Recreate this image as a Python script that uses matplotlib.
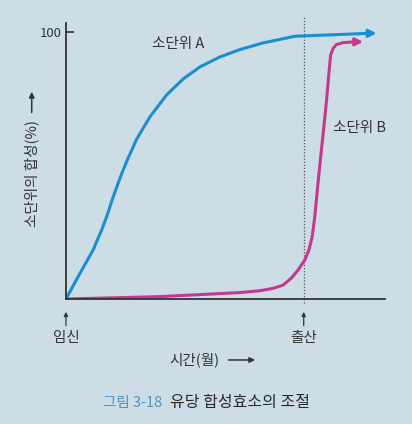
import numpy as np
import matplotlib
matplotlib.use("Agg")
import matplotlib.pyplot as plt

plt.rcParams['font.family'] = ['Noto Sans CJK KR', 'DejaVu Sans']

# data (months, % synthesis)
birth_month = 9
a_months = [0, 0.53, 1.03, 1.35, 1.54, 1.79, 2.11, 2.31, 2.67, 3.18, 3.81, 4.44,
            5.07, 5.82, 6.58, 7.46, 8.66, 11.50]
a_level = [0, 9.6, 18.4, 25.8, 30.8, 38.3, 47.0, 51.8, 59.8, 68.3, 76.5, 82.5,
           87.0, 90.7, 93.5, 96.0, 98.5, 99.6]
b_months = [0, 3.56, 6.58, 7.34, 7.84, 8.22, 8.54, 8.79, 9.04, 9.20, 9.32, 9.42,
            9.54, 9.67, 9.73, 9.86, 9.97, 10.02, 10.11, 10.24, 10.49, 10.93]
b_level = [0, 0.9, 2.4, 3.1, 4.0, 5.2, 7.9, 10.9, 14.6, 18.4, 23.3, 30.8,
           43.3, 55.8, 61.4, 73.9, 86.4, 91.4, 93.9, 95.4, 96.1, 96.4]
a_tip = (11.76, 99.6)
b_tip = (11.25, 96.4)

bg = '#cddde5'
blue = '#1a8fd0'
pink = '#c2398f'
ink = '#333333'

fig = plt.figure(figsize=(4.12, 4.24), dpi=100, facecolor=bg)
ax = fig.add_axes([0.160, 0.2948, 0.774, 0.665])
ax.set_facecolor(bg)
ax.set_xlim(0, 12.07)
ax.set_ylim(0, 105.7)

for s in ['top', 'right']:
    ax.spines[s].set_visible(False)
ax.spines['left'].set_bounds(0, 103.4)
for s in ['left', 'bottom']:
    ax.spines[s].set_color(ink)
    ax.spines[s].set_linewidth(1.3)

ax.set_xticks([])
ax.set_yticks([100])
ax.set_yticklabels(['100'], fontsize=9.5, color=ink)
ax.tick_params(axis='y', direction='in', length=6, width=1.2, color=ink, pad=3)

# dotted line at birth
ax.plot([birth_month, birth_month], [-1.5, 105.7], ls=(0, (1, 1.5)), lw=0.9,
        color='#555555', clip_on=False)

# curves
ax.plot(a_months, a_level, color=blue, lw=2.2, solid_capstyle='round',
        solid_joinstyle='round')
ax.plot(b_months, b_level, color=pink, lw=2.2, solid_capstyle='round',
        solid_joinstyle='round')
ax.annotate('', xy=a_tip, xytext=(a_months[-1], a_level[-1]),
            arrowprops=dict(arrowstyle='-|>', color=blue, lw=2.2, mutation_scale=11,
                            shrinkA=0, shrinkB=0))
ax.annotate('', xy=b_tip, xytext=(b_months[-1], b_level[-1]),
            arrowprops=dict(arrowstyle='-|>', color=pink, lw=2.2, mutation_scale=11,
                            shrinkA=0, shrinkB=0))

ax.text(4.24, 95.5, '소단위 A', fontsize=10.5, color=ink, ha='center', va='center')
ax.text(11.12, 64.0, '소단위 B', fontsize=10.5, color=ink, ha='center', va='center')

# markers under the x axis
for xm, lab in [(0, '임신'), (birth_month, '출산')]:
    ax.annotate('', xy=(xm, -4.8), xytext=(xm, -10), annotation_clip=False,
                arrowprops=dict(arrowstyle='-|>', color=ink, lw=0.9, mutation_scale=6,
                                shrinkA=0, shrinkB=0))
    ax.text(xm, -14.5, lab, fontsize=10.5, color=ink, ha='center', va='center')

# axis titles with long arrows
fig.text(0.472, 0.151, '시간(월)', fontsize=10.5, color=ink, ha='center', va='center')
fig.patches.append(plt.matplotlib.patches.FancyArrowPatch(
    (0.548, 0.151), (0.626, 0.151), transform=fig.transFigure, arrowstyle='-|>',
    mutation_scale=8, lw=1.1, color=ink))
fig.text(0.077, 0.591, '소단위의 합성(%)', fontsize=10.5, color=ink, ha='center',
         va='center', rotation=90)
fig.patches.append(plt.matplotlib.patches.FancyArrowPatch(
    (0.077, 0.728), (0.077, 0.790), transform=fig.transFigure, arrowstyle='-|>',
    mutation_scale=8, lw=1.1, color=ink))

fig.text(0.25, 0.05, '그림 3-18', fontsize=10.5, color='#4f93bd', ha='left', va='center')
fig.text(0.413, 0.05, '유당 합성효소의 조절', fontsize=11.5, color='#2a2a2a',
         ha='left', va='center')

fig.savefig('out.png', dpi=100, facecolor=bg)
